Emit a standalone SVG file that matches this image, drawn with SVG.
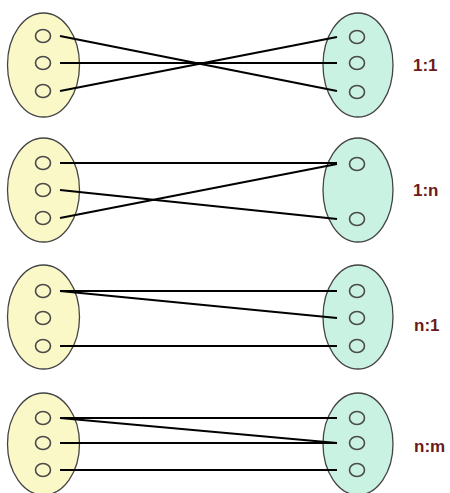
<svg xmlns="http://www.w3.org/2000/svg" width="450" height="493" viewBox="0 0 450 493">
<style>
.l{fill:#fbf8c8;stroke:#444;stroke-width:1.3}
.r{fill:#c9f2e2;stroke:#444;stroke-width:1.3}
.c{fill:none;stroke:#4a4a4a;stroke-width:1.6}
.k{stroke:#000;stroke-width:2.2;fill:none}
.t{font-family:"Liberation Sans",Arial,sans-serif;font-weight:bold;font-size:17px;fill:#6b1a1a}
</style>
<rect width="450" height="493" fill="#fff"/>
<g id="set-1-left"><ellipse class="l" cx="43.5" cy="65" rx="36" ry="52"/><ellipse class="c" cx="43" cy="36" rx="7.5" ry="6.5"/><ellipse class="c" cx="43" cy="63" rx="7.5" ry="6.5"/><ellipse class="c" cx="43" cy="91" rx="7.5" ry="6.5"/></g>
<g id="set-1-right"><ellipse class="r" cx="358" cy="65" rx="35" ry="52"/><ellipse class="c" cx="357" cy="37" rx="7.5" ry="6.5"/><ellipse class="c" cx="357" cy="63" rx="7.5" ry="6.5"/><ellipse class="c" cx="357" cy="92" rx="7.5" ry="6.5"/></g>
<g id="label-1"><text class="t" x="413" y="71">1:1</text></g>
<g id="set-2-left"><ellipse class="l" cx="43.5" cy="190" rx="36" ry="52"/><ellipse class="c" cx="43" cy="163" rx="7.5" ry="6.5"/><ellipse class="c" cx="43" cy="190" rx="7.5" ry="6.5"/><ellipse class="c" cx="43" cy="218" rx="7.5" ry="6.5"/></g>
<g id="set-2-right"><ellipse class="r" cx="358" cy="190" rx="35" ry="52"/><ellipse class="c" cx="357" cy="164" rx="7.5" ry="6.5"/><ellipse class="c" cx="357" cy="219" rx="7.5" ry="6.5"/></g>
<g id="label-2"><text class="t" x="413" y="196">1:n</text></g>
<g id="set-3-left"><ellipse class="l" cx="43.5" cy="317" rx="36" ry="52"/><ellipse class="c" cx="43" cy="291" rx="7.5" ry="6.5"/><ellipse class="c" cx="43" cy="318" rx="7.5" ry="6.5"/><ellipse class="c" cx="43" cy="346" rx="7.5" ry="6.5"/></g>
<g id="set-3-right"><ellipse class="r" cx="358" cy="317" rx="35" ry="52"/><ellipse class="c" cx="357" cy="291" rx="7.5" ry="6.5"/><ellipse class="c" cx="357" cy="318" rx="7.5" ry="6.5"/><ellipse class="c" cx="357" cy="346" rx="7.5" ry="6.5"/></g>
<g id="label-3"><text class="t" x="414" y="331">n:1</text></g>
<g id="set-4-left"><ellipse class="l" cx="43.5" cy="444" rx="36" ry="51"/><ellipse class="c" cx="43" cy="418" rx="7.5" ry="6.5"/><ellipse class="c" cx="43" cy="443" rx="7.5" ry="6.5"/><ellipse class="c" cx="43" cy="470" rx="7.5" ry="6.5"/></g>
<g id="set-4-right"><ellipse class="r" cx="358" cy="444" rx="35" ry="51"/><ellipse class="c" cx="357" cy="418" rx="7.5" ry="6.5"/><ellipse class="c" cx="357" cy="443" rx="7.5" ry="6.5"/><ellipse class="c" cx="357" cy="470" rx="7.5" ry="6.5"/></g>
<g id="label-4"><text class="t" x="414" y="452">n:m</text></g>
<g id="connectors" class="k">
<line x1="60" y1="36" x2="337" y2="91"/>
<line x1="60" y1="63" x2="337" y2="63"/>
<line x1="60" y1="91" x2="337" y2="37"/>
<line x1="60" y1="163" x2="337" y2="163"/>
<line x1="60" y1="190" x2="337" y2="219"/>
<line x1="60" y1="218" x2="337" y2="164"/>
<line x1="60" y1="291" x2="337" y2="291"/>
<line x1="60" y1="291" x2="337" y2="318"/>
<line x1="60" y1="346" x2="337" y2="346"/>
<line x1="60" y1="418" x2="337" y2="418"/>
<line x1="60" y1="418" x2="337" y2="443"/>
<line x1="60" y1="443" x2="337" y2="443"/>
<line x1="60" y1="470" x2="337" y2="470"/>
</g>
</svg>
